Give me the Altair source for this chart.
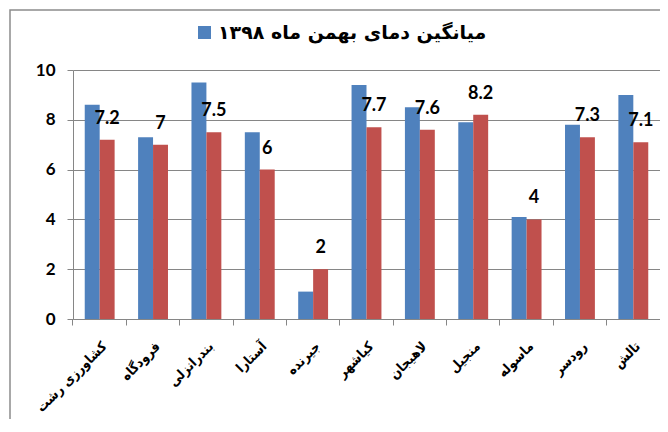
import altair as alt
import pandas as pd

stations = ["کشاورزی رشت", "فرودگاه", "بندرانزلی", "آستارا", "جیرنده", "کیاشهر",
            "لاهیجان", "منجیل", "ماسوله", "رودسر", "تالش"]
mean_vals = [8.6, 7.3, 9.5, 7.5, 1.1, 9.4, 8.5, 7.9, 4.1, 7.8, 9.0]
y1398_vals = [7.2, 7, 7.5, 6, 2, 7.7, 7.6, 8.2, 4, 7.3, 7.1]
series = ["میانگین دمای بهمن ماه ۱۳۹۸", "بهمن ۱۳۹۸"]
colors = ["#4F81BD", "#C0504D"]
y_ticks = [0, 2, 4, 6, 8, 10]

rows = []
for s, v1, v2 in zip(stations, mean_vals, y1398_vals):
    rows.append({"station": s, "series": series[0], "value": v1})
    rows.append({"station": s, "series": series[1], "value": v2})
df = pd.DataFrame(rows)

x_enc = alt.X("station:N", sort=stations,
              scale=alt.Scale(paddingInner=0.44, paddingOuter=0.22),
              axis=alt.Axis(title=None, labelAngle=-45, labelFont="DejaVu Sans Condensed",
                            labelFontWeight="bold", labelFontSize=13.5, labelColor="black",
                            labelPadding=14, tickSize=6, bandPosition=-0.393,
                            labelOffset=0, grid=False, labelLimit=200))
xoff = alt.XOffset("series:N", sort=series, scale=alt.Scale(domain=series, paddingInner=0))
y_enc = alt.Y("value:Q", scale=alt.Scale(domain=[0, 10]),
              axis=alt.Axis(title=None, values=y_ticks, labelFont="Lato",
                            labelFontWeight="bold", labelFontSize=17, labelColor="black",
                            labelPadding=12, tickSize=6, grid=True))

frame = alt.Chart(pd.DataFrame({"f": [0]})).mark_rect(
    filled=False, stroke="#8C8C8C", strokeWidth=1.5
).encode(x=alt.value(-63), x2=alt.value(720), y=alt.value(-60), y2=alt.value(520))

bars = alt.Chart(df).mark_bar().encode(
    x=x_enc, xOffset=xoff, y=y_enc,
    color=alt.Color("series:N", scale=alt.Scale(domain=series, range=colors),
                    legend=alt.Legend(values=[series[0]], title=None, orient="none",
                                      legendX=122, legendY=-47, symbolType="square",
                                      symbolSize=170, labelFont="DejaVu Sans",
                                      labelFontWeight="bold", labelFontSize=19,
                                      labelColor="black", labelLimit=400,
                                      symbolStrokeWidth=0, symbolOpacity=1)),
)

labels = alt.Chart(df).transform_filter(
    alt.datum.series == series[1]
).mark_text(font="Lato", fontWeight="bold", fontSize=18, color="black",
            baseline="middle", dy=-21).encode(
    x=alt.X("station:N", sort=stations), xOffset=xoff, y="value:Q",
    text=alt.Text("value:Q"),
)

chart = alt.layer(frame, bars, labels).properties(
    width=587, height=249,
    autosize=alt.AutoSizeParams(type="none"),
    padding={"left": 65, "top": 62, "right": 0, "bottom": 100},
).configure_view(stroke=None).configure_axis(
    domainColor="#868686", gridColor="#868686", tickColor="#868686",
    domainWidth=1, gridWidth=1,
)

chart.save("out.html", embed_options={"renderer": "svg", "actions": False})
